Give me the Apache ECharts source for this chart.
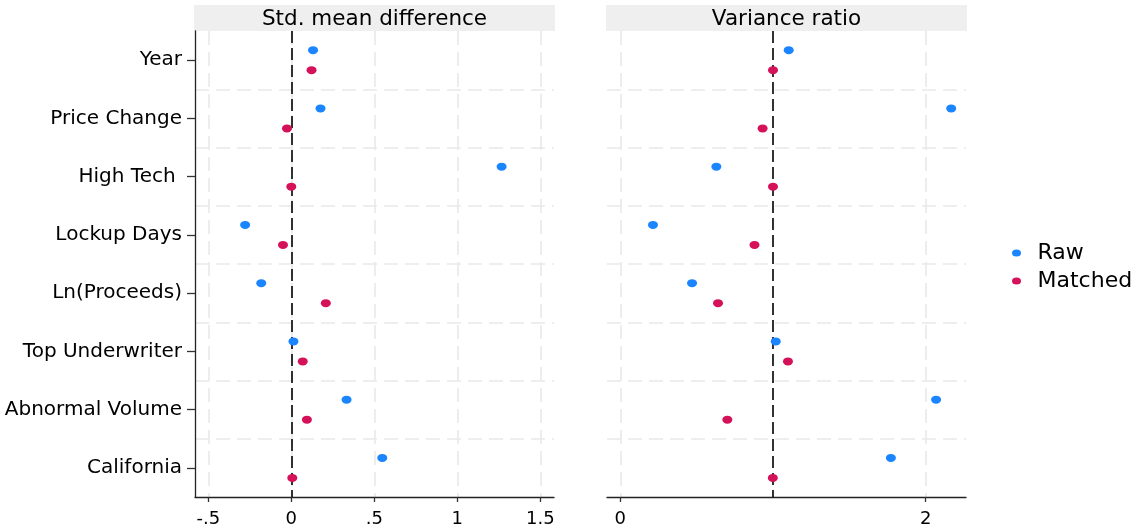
<!DOCTYPE html>
<html><head><meta charset="utf-8">
<script src="https://cdn.jsdelivr.net/npm/echarts@6/dist/echarts.min.js"></script>
<style>html,body{margin:0;padding:0;background:#fff}#c{width:1138px;height:529px}</style>
</head><body><div id="c"></div>
<script>
const categories = ['Year', 'Price Change', 'High Tech ', 'Lockup Days', 'Ln(Proceeds)', 'Top Underwriter', 'Abnormal Volume', 'California'];
const smdRaw = [0.131, 0.176, 1.267, -0.278, -0.181, 0.013, 0.333, 0.548];
const smdMatched = [0.122, -0.026, 0.000, -0.050, 0.208, 0.069, 0.094, 0.006];
const vrRaw = [1.103, 2.167, 0.629, 0.214, 0.470, 1.018, 2.068, 1.772];
const vrMatched = [1.000, 0.932, 1.000, 0.879, 0.640, 1.098, 0.701, 0.999];
const smdTicks = [-0.5, 0, 0.5, 1, 1.5];
const smdTickLabels = ['-.5', '0', '.5', '1', '1.5'];
const vrTicks = [0, 2];
const vrTickLabels = ['0', '2'];
const panelTitles = ['Std. mean difference', 'Variance ratio'];
const seriesNames = ['Raw', 'Matched'];
const refLines = [0, 1];

const FONT = '"DejaVu Sans", sans-serif';
const colors = ['#1A85FF', '#D41159'];
const ellipse = 'path://M0,3.5A4.5,3.5 0 1 1 9,3.5A4.5,3.5 0 1 1 0,3.5Z';

function lab(ticks, labels) {
  return v => { const i = ticks.findIndex(t => Math.abs(t - v) < 1e-9); return i >= 0 ? labels[i] : ''; };
}
const gridStyle = {color: '#e9e9e9', width: 1.6, type: [14, 7]};

function xAxis(gi, min, max, ticks, labels) {
  return {
    gridIndex: gi, type: 'value', min: min, max: max,
    axisLine: {show: true, onZero: false, lineStyle: {color: '#222', width: 1.3}},
    axisTick: {show: true, length: 5, customValues: ticks, lineStyle: {color: '#333', width: 1.3}},
    axisLabel: {customValues: ticks, formatter: lab(ticks, labels), margin: 13, fontSize: 18, fontFamily: FONT, color: '#000'},
    splitLine: {show: true, lineStyle: gridStyle}
  };
}
function yAxis(gi, showLabels) {
  return {
    gridIndex: gi, type: 'category', data: categories, inverse: true,
    axisLine: {show: showLabels, onZero: false, lineStyle: {color: '#222', width: 1.3}},
    axisTick: {show: showLabels, alignWithLabel: true, length: 8, interval: 0, lineStyle: {color: '#333', width: 1.3}},
    axisLabel: {show: showLabels, interval: 0, margin: 13, fontSize: 20, fontFamily: FONT, color: '#000'},
    splitLine: {show: true, interval: 0, showMinLine: false, showMaxLine: false, lineStyle: gridStyle}
  };
}
function dots(name, gi, xs, color, off, ref) {
  const s = {
    name: name, type: 'scatter', xAxisIndex: gi, yAxisIndex: gi, z: 3,
    symbol: ellipse, symbolSize: [10, 8], symbolOffset: [0, off],
    itemStyle: {color: color, opacity: 1},
    data: categories.map((c, i) => [xs[i], c])
  };
  if (ref !== undefined) {
    s.markLine = {silent: true, z: 1, symbol: 'none', label: {show: false},
      lineStyle: {color: '#000', width: 1.6, type: [12, 5]}, emphasis: {disabled: true},
      data: [{xAxis: ref}]};
  }
  return s;
}

const chart = echarts.init(document.getElementById('c'), null, {renderer: 'canvas'});
chart.setOption({
  animation: false,
  backgroundColor: '#fff',
  grid: [
    {left: 195, top: 31, width: 359, height: 466},
    {left: 607, top: 31, width: 359, height: 466}
  ],
  xAxis: [xAxis(0, -0.58, 1.5825, smdTicks, smdTickLabels), xAxis(1, -0.087, 2.264, vrTicks, vrTickLabels)],
  yAxis: [yAxis(0, true), yAxis(1, false)],
  legend: {
    orient: 'vertical', left: 1012, top: 242, padding: 0,
    itemWidth: 32, itemHeight: 7, itemGap: 6, icon: ellipse,
    textStyle: {fontFamily: FONT, fontSize: 22, color: '#000', lineHeight: 22},
    data: seriesNames
  },
  graphic: [
    {type: 'rect', shape: {x: 194, y: 5, width: 361, height: 26}, style: {fill: '#efefef'}, z: 0},
    {type: 'rect', shape: {x: 606, y: 5, width: 361, height: 26}, style: {fill: '#efefef'}, z: 0},
    {type: 'text', x: 374.5, y: 19.5, z: 1, style: {text: panelTitles[0], font: '21.5px "DejaVu Sans"', fill: '#000', align: 'center', verticalAlign: 'middle', textAlign: 'center', textVerticalAlign: 'middle'}},
    {type: 'text', x: 786.5, y: 19.5, z: 1, style: {text: panelTitles[1], font: '21.5px "DejaVu Sans"', fill: '#000', align: 'center', verticalAlign: 'middle', textAlign: 'center', textVerticalAlign: 'middle'}}
  ],
  series: [
    dots(seriesNames[0], 0, smdRaw, colors[0], -10, refLines[0]),
    dots(seriesNames[1], 0, smdMatched, colors[1], 10),
    dots(seriesNames[0], 1, vrRaw, colors[0], -10, refLines[1]),
    dots(seriesNames[1], 1, vrMatched, colors[1], 10)
  ]
});
</script></body></html>
